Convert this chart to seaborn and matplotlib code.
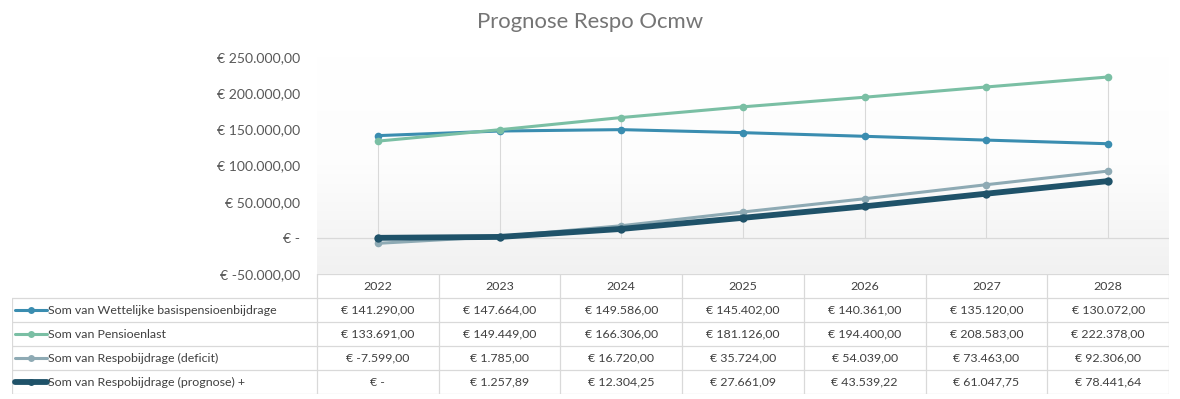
import numpy as np
import pandas as pd
import matplotlib
matplotlib.use("Agg")
import matplotlib.pyplot as plt
from matplotlib.colors import LinearSegmentedColormap
from matplotlib.lines import Line2D
import seaborn as sns

years = ["2022", "2023", "2024", "2025", "2026", "2027", "2028"]
series_names = [
    "Som van Wettelijke basispensioenbijdrage",
    "Som van Pensioenlast",
    "Som van Respobijdrage (deficit)",
    "Som van Respobijdrage (prognose) +",
]
wettelijke = [141290.00, 147664.00, 149586.00, 145402.00, 140361.00, 135120.00, 130072.00]
pensioenlast = [133691.00, 149449.00, 166306.00, 181126.00, 194400.00, 208583.00, 222378.00]
deficit = [-7599.00, 1785.00, 16720.00, 35724.00, 54039.00, 73463.00, 92306.00]
prognose = [0.00, 1257.89, 12304.25, 27661.09, 43539.22, 61047.75, 78441.64]
y_ticks = [-50000, 0, 50000, 100000, 150000, 200000, 250000]

colors = ["#3A8DB0", "#7ABFA4", "#8EAAB4", "#1F5269"]
widths = [2.2, 2.2, 2.2, 4.2]

sns.set_theme(style="white")
plt.rcParams["font.family"] = ["Lato", "DejaVu Sans"]


def eur(v):
    if v == 0:
        return "€ -"
    s = f"{abs(v):,.2f}".replace(",", "X").replace(".", ",").replace("X", ".")
    return "€ -" + s if v < 0 else "€ " + s


W, H = 1180, 399
fig = plt.figure(figsize=(W / 100, H / 100), dpi=100)
fig.patch.set_facecolor("white")

# plot area in pixel terms
left, right, top, bottom = 317, 1169, 57, 274
ax = fig.add_axes([left / W, 1 - bottom / H, (right - left) / W, (bottom - top) / H])

values = [wettelijke, pensioenlast, deficit, prognose]
x = np.arange(len(years))

# gradient background, white on top fading to light grey
grad = np.linspace(0, 1, 256).reshape(-1, 1)
cmap = LinearSegmentedColormap.from_list("bg", ["#FFFFFF", "#FDFDFD", "#F1F1F1"])
ax.imshow(grad, extent=[-0.5, 6.5, -50000, 250000], aspect="auto", cmap=cmap,
          origin="upper", zorder=0)

# drop lines and zero axis
tops = np.max(np.array(values), axis=0)
ax.vlines(x, 0, tops, color="#D9D9D9", lw=0.8, zorder=1)
ax.axhline(0, color="#D9D9D9", lw=0.9, zorder=1)

for name, vals, c, lw in zip(series_names, values, colors, widths):
    df = pd.DataFrame({"x": x, "y": vals})
    sns.lineplot(data=df, x="x", y="y", ax=ax, color=c, lw=lw, marker="o",
                 markersize=5.5 if lw < 3 else 6, markeredgewidth=0, zorder=3)

ax.set_xlim(-0.5, 6.5)
ax.set_ylim(-50000, 250000)
ax.set_yticks(y_ticks)
ax.set_yticklabels([eur(v) for v in y_ticks], fontsize=10.1, color="#595959")
ax.tick_params(axis="y", length=0, pad=12)
ax.set_xticks([])
ax.set_xlabel("")
ax.set_ylabel("")
for s in ax.spines.values():
    s.set_visible(False)

fig.text(590 / W, 1 - 22 / H, "Prognose Respo Ocmw", ha="center", va="center",
         fontsize=15.9, color="#757575")

# data table below the plot, sharing the category positions
t_left, t_bottom = 12, 394
col_w = (right - left) / len(years)
tax = fig.add_axes([t_left / W, 1 - t_bottom / H, (right - t_left) / W, (t_bottom - bottom) / H])
xmin = -0.5 - (left - t_left) / col_w
tax.set_xlim(xmin, 6.5)
tax.set_ylim(5, 0)
tax.axis("off")

grid_c = "#D9D9D9"
tax.plot([-0.5, 6.5], [0, 0], color=grid_c, lw=0.9)
for r in range(1, 6):
    tax.plot([xmin, 6.5], [r, r], color=grid_c, lw=0.9)
tax.plot([xmin, xmin], [1, 5], color=grid_c, lw=0.9)
for b in np.arange(-0.5, 7.0, 1.0):
    tax.plot([b, b], [0, 5], color=grid_c, lw=0.9)

txt_c = "#404040"
fs = 8.9
for i, yr in enumerate(years):
    tax.text(i, 0.5, yr, ha="center", va="center", fontsize=fs, color=txt_c)
for r, (name, vals, c, lw) in enumerate(zip(series_names, values, colors, widths), start=1):
    for i, v in enumerate(vals):
        tax.text(i, r + 0.5, eur(v), ha="center", va="center", fontsize=fs, color=txt_c)
    k0 = xmin + 3 / col_w
    k1 = xmin + 35 / col_w
    tax.add_line(Line2D([k0, k1], [r + 0.5, r + 0.5], color=c, lw=lw))
    tax.add_line(Line2D([(k0 + k1) / 2], [r + 0.5], color=c, marker="o",
                        markersize=5, markeredgewidth=0))
    tax.text(xmin + 36 / col_w, r + 0.5, name, ha="left", va="center",
             fontsize=fs, color=txt_c)

fig.savefig("out.png", dpi=100)
